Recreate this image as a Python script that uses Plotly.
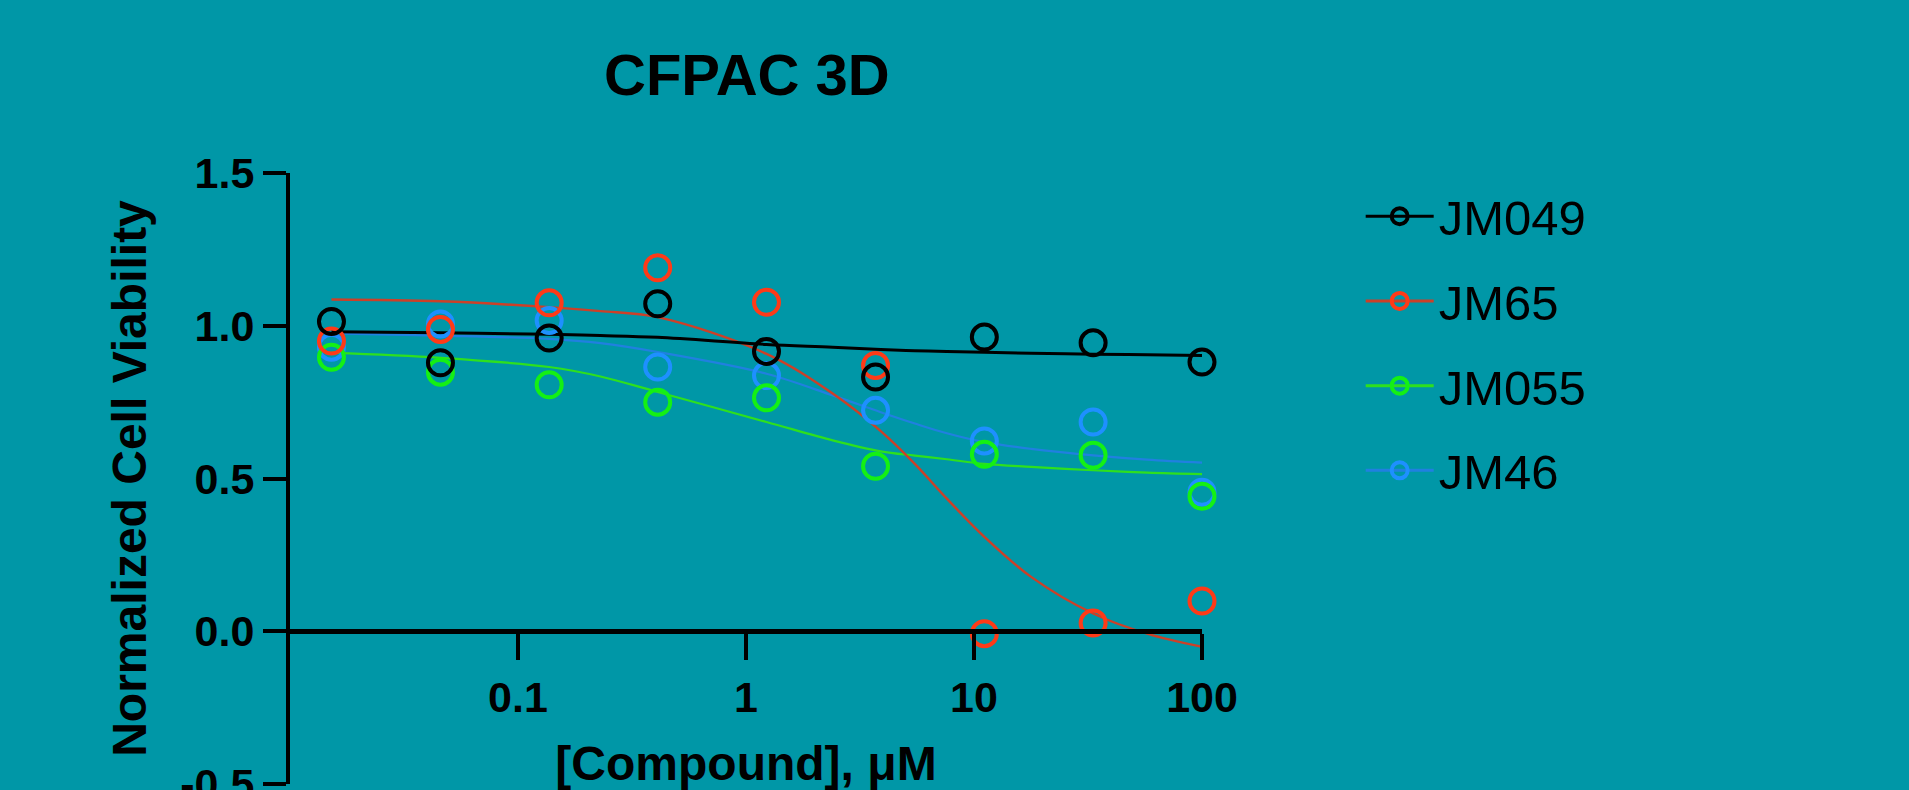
import plotly.graph_objects as go

# ---- data ----
series_names = ["JM049", "JM65", "JM055", "JM46"]
conc_uM = [0.0152, 0.0457, 0.137, 0.41, 1.23, 3.7, 11.1, 33.3, 100]

viab_jm049 = [1.014, 0.879, 0.960, 1.072, 0.916, 0.832, 0.963, 0.944, 0.881]
viab_jm65 = [0.950, 0.988, 1.075, 1.190, 1.077, 0.870, -0.008, 0.027, 0.099]
viab_jm055 = [0.897, 0.848, 0.807, 0.750, 0.764, 0.540, 0.579, 0.576, 0.442]
viab_jm46 = [0.930, 1.006, 1.017, 0.865, 0.837, 0.723, 0.623, 0.685, 0.455]

# fitted curves
curve_x = [0.0152, 0.0457, 0.137, 0.23, 0.41, 1.23, 2.4, 3.9, 5.5, 7.6, 11.1, 17.8, 33.3, 57.5, 100]
fit_jm049 = [0.980, 0.977, 0.972, 0.968, 0.962, 0.939, 0.930, 0.922, 0.918, 0.916, 0.913, 0.910, 0.907, 0.905, 0.903]
fit_jm65 = [1.086, 1.080, 1.061, 1.048, 1.028, 0.908, 0.778, 0.655, 0.548, 0.434, 0.309, 0.178, 0.058, -0.008, -0.051]
fit_jm055 = [0.912, 0.895, 0.865, 0.834, 0.783, 0.685, 0.625, 0.589, 0.575, 0.563, 0.548, 0.538, 0.527, 0.519, 0.514]
fit_jm46 = [0.975, 0.968, 0.957, 0.943, 0.914, 0.843, 0.772, 0.717, 0.680, 0.648, 0.619, 0.597, 0.576, 0.562, 0.552]

x_tick_vals = [0.1, 1, 10, 100]
x_tick_text = ["0.1", "1", "10", "100"]
y_tick_vals = [-0.5, 0.0, 0.5, 1.0, 1.5]
y_tick_text = ["-0.5", "0.0", "0.5", "1.0", "1.5"]

title_text = "CFPAC 3D"
x_title = "[Compound], μM"
y_title = "Normalized Cell Viability"

# ---- styles ----
BG = "#0097A7"
FONT = "Arial, Liberation Sans, sans-serif"
marker_colors = {"JM049": "#000000", "JM65": "#FF3A17", "JM055": "#14F014", "JM46": "#1E90FF"}
curve_colors = {"JM049": "#000000", "JM65": "#CC4028", "JM055": "#2EE01E", "JM46": "#2080E0"}
curve_widths = {"JM049": 3, "JM65": 2.4, "JM055": 2.2, "JM46": 2.2}

points = {"JM049": viab_jm049, "JM65": viab_jm65, "JM055": viab_jm055, "JM46": viab_jm46}
fits = {"JM049": fit_jm049, "JM65": fit_jm65, "JM055": fit_jm055, "JM46": fit_jm46}

draw_order = ["JM46", "JM055", "JM65", "JM049"]

fig = go.Figure()

for name in draw_order:
    fig.add_trace(go.Scatter(
        x=curve_x, y=fits[name], mode="lines", line_shape="spline",
        line=dict(color=curve_colors[name], width=curve_widths[name]),
        showlegend=False, hoverinfo="skip", cliponaxis=False))

for name in draw_order:
    fig.add_trace(go.Scatter(
        x=conc_uM, y=points[name], mode="markers", name=name,
        marker=dict(symbol="circle-open", size=25, color=marker_colors[name],
                    line=dict(width=4, color=marker_colors[name])),
        showlegend=False, cliponaxis=False))

# legend entries (line + open circle), listed top-to-bottom
for name in series_names:
    fig.add_trace(go.Scatter(
        x=[None], y=[None], mode="lines+markers", name=name, legendgroup=name,
        line=dict(color=curve_colors[name], width=3),
        marker=dict(symbol="circle-open", size=25, color=marker_colors[name],
                    line=dict(width=4, color=marker_colors[name]))))

fig.update_layout(
    width=1909, height=790,
    paper_bgcolor=BG, plot_bgcolor=BG,
    margin=dict(l=290, r=707, t=173, b=6, autoexpand=False),
    font=dict(family=FONT, color="#000000"),
    title=dict(text=title_text, x=0.501, xref="paper", xanchor="center",
               y=1 - 75 / 790, yref="container", yanchor="middle",
               font=dict(size=58, family=FONT, color="#000000", weight="bold")),
    showlegend=True,
    legend=dict(x=1.174, xanchor="left", y=0.992, yanchor="top",
                bgcolor="rgba(0,0,0,0)", font=dict(size=49, family=FONT, color="#000000"),
                tracegroupgap=18, itemwidth=68, traceorder="grouped"),
    xaxis=dict(type="log", range=[-2, 2], tickmode="array", tickvals=x_tick_vals, ticktext=x_tick_text,
               showgrid=False, zeroline=False, showline=True, linecolor="#000000", linewidth=5,
               ticks="outside", ticklen=26, tickwidth=4, tickcolor="#000000",
               tickfont=dict(size=43, family=FONT, color="#000000", weight="bold"),
               anchor="free", position=0.25, automargin=False,
               title=dict(text=x_title, standoff=48,
                          font=dict(size=48, family=FONT, color="#000000", weight="bold"))),
    yaxis=dict(range=[-0.5, 1.5], tickmode="array", tickvals=y_tick_vals, ticktext=y_tick_text,
               showgrid=False, zeroline=False, showline=True, linecolor="#000000", linewidth=4,
               ticks="outside", ticklen=23, tickwidth=4, tickcolor="#000000",
               tickfont=dict(size=43, family=FONT, color="#000000", weight="bold"),
               ticklabeloverflow="allow", automargin=False,
               title=dict(text=y_title, standoff=19,
                          font=dict(size=48, family=FONT, color="#000000", weight="bold"))),
)

fig.write_html("out.html")
